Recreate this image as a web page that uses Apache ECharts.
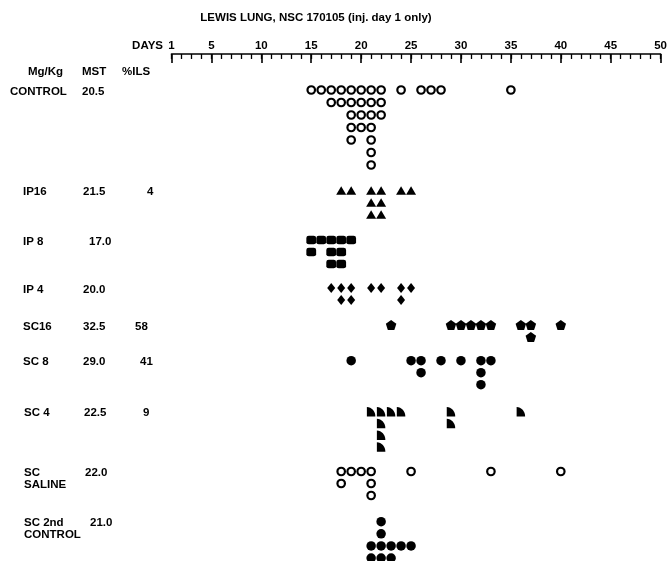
<!DOCTYPE html>
<html>
<head>
<meta charset="utf-8">
<script src="https://cdn.jsdelivr.net/npm/echarts@6/dist/echarts.min.js"></script>
<style>html,body{margin:0;padding:0;background:#fff;}#chart{width:670px;height:561px;}</style>
</head>
<body>
<div id="chart"></div>
<script>
// ---- data ----
const titleText = 'LEWIS LUNG, NSC 170105 (inj. day 1 only)';
const majorTicks = [1, 5, 10, 15, 20, 25, 30, 35, 40, 45, 50];
const groupNames = [['CONTROL'], ['IP16'], ['IP 8'], ['IP 4'], ['SC16'], ['SC 8'], ['SC 4'], ['SC', 'SALINE'], ['SC 2nd', 'CONTROL']];
const mstValues = ['20.5', '21.5', '17.0', '20.0', '32.5', '29.0', '22.5', '22.0', '21.0'];
const ilsValues = ['', '4', '', '', '58', '41', '9', '', ''];
// death days, one inner list per stacking level
const controlDays = [[15,16,17,18,19,20,21,22,24,26,27,28,35],[17,18,19,20,21,22],[19,20,21,22],[19,20,21],[19,21],[21],[21]];
const ip16Days = [[18,19,21,22,24,25],[21,22],[21,22]];
const ip8Days = [[15,16,17,18,19],[15,17,18],[17,18]];
const ip4Days = [[17,18,19,21,22,24,25],[18,19,24]];
const sc16Days = [[23,29,30,31,32,33,36,37,40],[37]];
const sc8Days = [[19,25,26,28,30,32,33],[26,32],[32]];
const sc4Days = [[21,22,23,24,29,36],[22,29],[22],[22]];
const salineDays = [[18,19,20,21,25,33,40],[18,21],[21]];
const control2Days = [[22],[22],[21,22,23,24,25],[21,22,23]];

// ---- layout ----
const groupDays = [controlDays, ip16Days, ip8Days, ip4Days, sc16Days, sc8Days, sc4Days, salineDays, control2Days];
const baseY = [90, 190.5, 240, 288, 325, 360.7, 411.7, 471.5, 521.7];
const stepY = [12.5, 12, 12, 12, 12, 12, 11.8, 12, 12.1];
const nameX = [10, 23, 23, 23, 23, 23, 24, 24, 24];
const mstX = [82, 83, 89, 83, 83, 83, 84, 85, 90];
const ilsX = [0, 147, 0, 0, 135, 140, 143, 0, 0];
const quarter = 'path://M0,0 C5.5,0 10,4.5 10,10 L0,10 Z';
const pentagon = 'path://M0,-1 L0.951,-0.309 L0.588,0.809 L-0.588,0.809 L-0.951,-0.309 Z';
const openStyle = {color: '#fff', borderColor: '#000', borderWidth: 2.2, opacity: 1};
const fillStyle = {color: '#000', opacity: 1};
const symbols = [
  {symbol: 'circle', size: 7.5, style: openStyle},
  {symbol: 'triangle', size: [10, 8.5], style: fillStyle},
  {symbol: 'roundRect', size: [9.8, 8.5], style: fillStyle},
  {symbol: 'diamond', size: [8, 10], style: fillStyle},
  {symbol: pentagon, size: [10.5, 10], style: fillStyle},
  {symbol: 'circle', size: 9.5, style: fillStyle},
  {symbol: quarter, size: [8.5, 9.5], style: fillStyle},
  {symbol: 'circle', size: 7.5, style: openStyle},
  {symbol: 'circle', size: 9.5, style: fillStyle}
];

const FONT = 'bold 11.5px "Liberation Sans", Arial, sans-serif';
function txt(text, x, y, align) {
  return {type: 'text', x: x, y: y, silent: true,
    style: {text: text, font: FONT, fill: '#000', align: align || 'left', verticalAlign: 'middle'}};
}

const graphics = [
  txt(titleText, 316, 18, 'center'),
  txt('DAYS', 163, 46, 'right'),
  txt('Mg/Kg', 28, 72), txt('MST', 82, 72), txt('%ILS', 122, 72)
];
groupNames.forEach((lines, i) => {
  lines.forEach((l, k) => graphics.push(txt(l, nameX[i], baseY[i] + 1.5 + k * 11.5)));
  graphics.push(txt(mstValues[i], mstX[i], baseY[i] + 1.5));
  if (ilsValues[i]) graphics.push(txt(ilsValues[i], ilsX[i], baseY[i] + 1.5));
});

const series = groupDays.map((rows, i) => {
  const data = [];
  rows.forEach((row, lvl) => row.forEach(d => data.push([d, baseY[i] + lvl * stepY[i]])));
  return {
    type: 'scatter', data: data, symbol: symbols[i].symbol, symbolSize: symbols[i].size,
    itemStyle: symbols[i].style, clip: false, silent: true, animation: false
  };
});

const chart = echarts.init(document.getElementById('chart'), null, {renderer: 'canvas'});
chart.setOption({
  backgroundColor: '#fff',
  animation: false,
  grid: {left: 171.5, right: 8.5, top: 54, bottom: 0},
  xAxis: [
    {type: 'value', position: 'top', min: 1, max: 50, interval: 1,
      axisLine: {show: true, lineStyle: {color: '#000', width: 1.6}},
      axisTick: {show: true, inside: true, length: 5, lineStyle: {color: '#000', width: 1.3}},
      axisLabel: {show: true, margin: 2, color: '#000', fontWeight: 'bold', fontSize: 11.5,
        fontFamily: '"Liberation Sans", Arial, sans-serif',
        formatter: v => majorTicks.indexOf(v) >= 0 ? String(v) : ''},
      splitLine: {show: false}},
    {type: 'value', position: 'top', min: 1, max: 50,
      axisLine: {show: false},
      axisTick: {show: true, inside: true, length: 9, customValues: majorTicks, lineStyle: {color: '#000', width: 1.6}},
      axisLabel: {show: false, customValues: majorTicks},
      splitLine: {show: false}}
  ],
  yAxis: {type: 'value', inverse: true, min: 54, max: 561, show: false},
  series: series,
  graphic: graphics
});
</script>
</body>
</html>
